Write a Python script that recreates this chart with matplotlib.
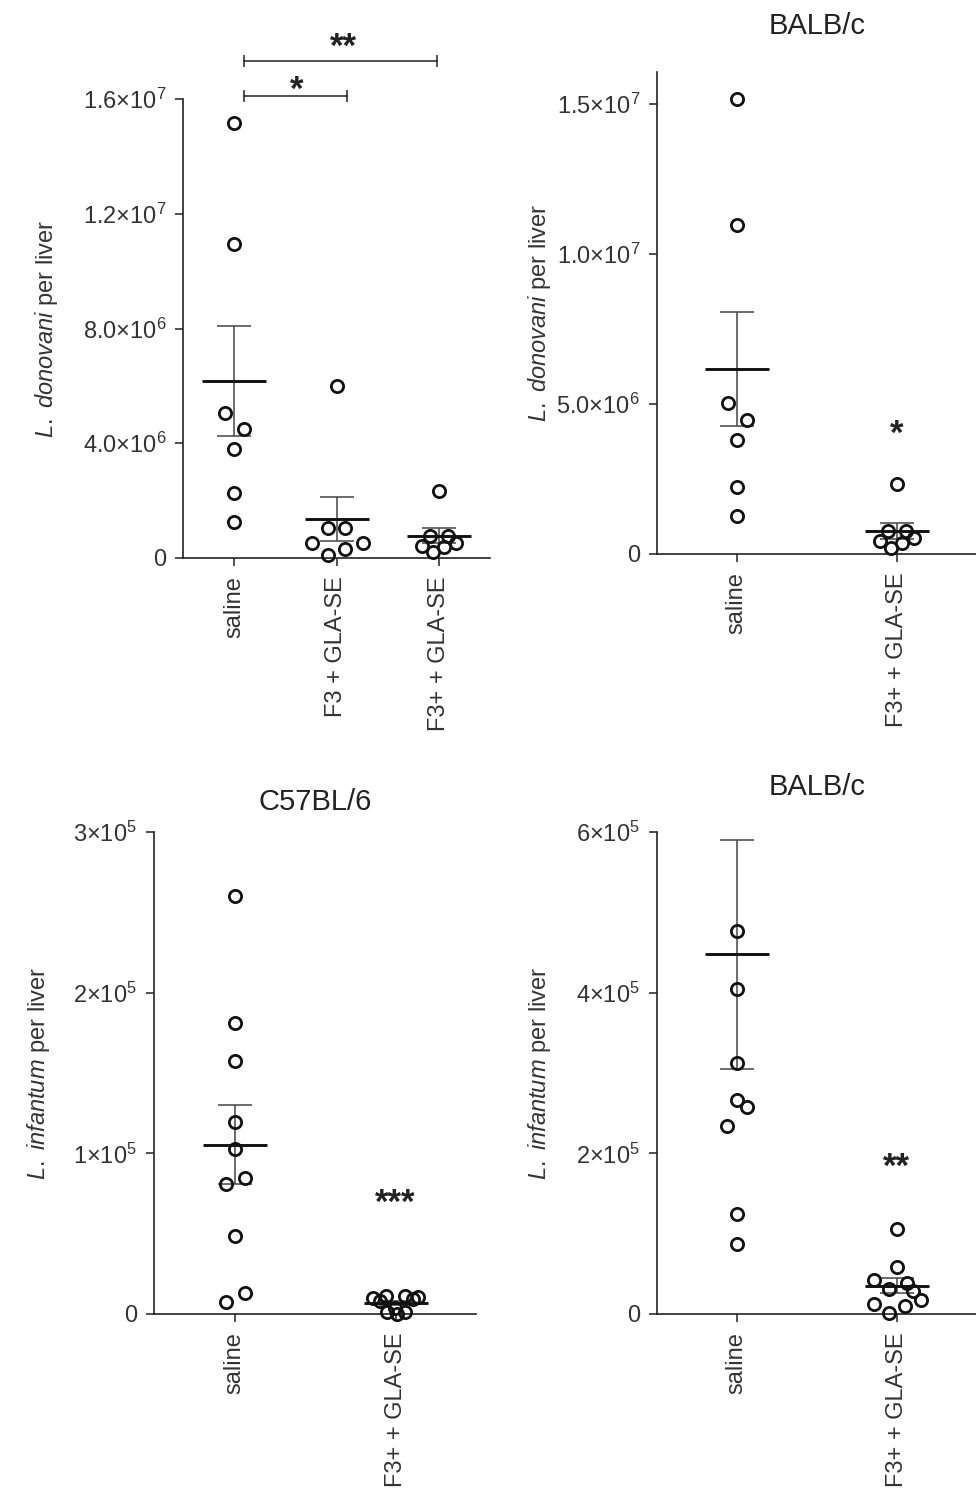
import matplotlib
matplotlib.use("Agg")
import matplotlib.pyplot as plt

plt.rcParams["font.family"] = ["Liberation Sans", "DejaVu Sans"]
plt.rcParams["mathtext.fontset"] = "custom"
plt.rcParams["mathtext.rm"] = "Liberation Sans"
plt.rcParams["mathtext.it"] = "Liberation Sans:italic"
plt.rcParams["mathtext.bf"] = "Liberation Sans:bold"

# ---------------- data ----------------
groups_three = ["saline", "F3 + GLA-SE", "F3+ + GLA-SE"]
groups_two = ["saline", "F3+ + GLA-SE"]

# L. donovani burden per liver (BALB/c)
ld_saline = [15.18e6, 10.96e6, 5.04e6, 4.48e6, 3.80e6, 2.25e6, 1.26e6]
ld_f3 = [5.99e6, 1.03e6, 1.03e6, 0.51e6, 0.51e6, 0.32e6, 0.10e6]
ld_f3plus = [2.33e6, 0.78e6, 0.78e6, 0.42e6, 0.52e6, 0.37e6, 0.21e6]
ld_mean = [6.17e6, 1.36e6, 0.77e6]
ld_sem = [1.90e6, 0.78e6, 0.26e6]

# L. infantum burden per liver (C57BL/6)
c57_saline = [2.604e5, 1.815e5, 1.578e5, 1.198e5, 1.026e5, 0.849e5, 0.808e5,
              0.488e5, 0.129e5, 0.073e5]
c57_f3plus = [0.098e5, 0.112e5, 0.112e5, 0.104e5, 0.083e5, 0.092e5, 0.014e5,
              0.002e5, 0.014e5, 0.035e5]
c57_mean = [1.055e5, 0.067e5]
c57_sem = [0.248e5, 0.012e5]

# L. infantum burden per liver (BALB/c)
balb_saline = [4.769e5, 4.054e5, 3.124e5, 2.667e5, 2.583e5, 2.343e5, 1.246e5, 0.872e5]
balb_f3plus = [1.055e5, 0.590e5, 0.424e5, 0.390e5, 0.307e5, 0.291e5, 0.174e5,
               0.125e5, 0.100e5, 0.016e5]
balb_mean = [4.48e5, 0.353e5]
balb_sem = [1.43e5, 0.092e5]

# y ticks and their labels
ld3_ticks = [0, 4.0e6, 8.0e6, 1.2e7, 1.6e7]
ld3_labels = ["0", "4.0\u00d710$^{6}$", "8.0\u00d710$^{6}$", "1.2\u00d710$^{7}$", "1.6\u00d710$^{7}$"]
ld2_ticks = [0, 5.0e6, 1.0e7, 1.5e7]
ld2_labels = ["0", "5.0\u00d710$^{6}$", "1.0\u00d710$^{7}$", "1.5\u00d710$^{7}$"]
c57_ticks = [0, 1e5, 2e5, 3e5]
c57_labels = ["0", "1\u00d710$^{5}$", "2\u00d710$^{5}$", "3\u00d710$^{5}$"]
balb_ticks = [0, 2e5, 4e5, 6e5]
balb_labels = ["0", "2\u00d710$^{5}$", "4\u00d710$^{5}$", "6\u00d710$^{5}$"]

# ---------------- scatter layout (horizontal spread, pixels) ----------------
ld_saline_dx = [0, 0, -9, 10, 0, 0, 0]
ld_f3_dx = [0, -8.5, 8.5, -25, 26, 8.5, -8.5]
ld_f3plus_dx = [0, -9, 9.3, -17.3, 17.3, 5, -5.7]
c57_saline_dx = [0, 0, 0, 0, 0, 10, -9, 0, 10, -9]
c57_f3plus_dx = [-23, -9.7, 9.3, 22.6, -15.7, 17.6, -8.4, 1, 9.3, -1]
balb_saline_dx = [0, 0, 0, 0, 10.4, -10, 0, 0]
balb_f3plus_dx = [0, 0, -23.3, 10, -8, 16, 24.4, -23.3, 7.7, -8]

W, H, DPI = 976, 1500, 100
TXT = "#333333"
INK = "#222222"
STAR_SIZE = 25
fig = plt.figure(figsize=(W / DPI, H / DPI), dpi=DPI)


def make_axes(left, right, top, bottom):
    return fig.add_axes([left / W, 1 - bottom / H, (right - left) / W, (bottom - top) / H])


def style(ax, ngroups, names, ticks, labels, ymax, ylabel, label_x):
    ax.set_xlim(-0.5, ngroups - 0.5)
    ax.set_ylim(0, ymax)
    ax.set_xticks(range(ngroups))
    ax.set_xticklabels(names, rotation=90, ha="center", va="top")
    ax.set_yticks(ticks)
    ax.set_yticklabels(labels)
    for s in ("top", "right"):
        ax.spines[s].set_visible(False)
    for s in ("left", "bottom"):
        ax.spines[s].set_linewidth(1.2)
        ax.spines[s].set_color(INK)
    ax.tick_params(axis="both", direction="out", length=5.5, width=1.1,
                   color=INK, labelsize=17, labelcolor=TXT)
    ax.tick_params(axis="y", pad=6.5)
    ax.tick_params(axis="x", pad=7.5)
    ax.set_ylabel(ylabel, fontsize=17, color=TXT)
    ax.yaxis.set_label_coords(label_x, 0.5)


def draw_group(ax, xpos, values, dx, mean, sem, ngroups):
    px_per_unit = ax.get_position().width * W / ngroups
    xs = [xpos + d / px_per_unit for d in dx]
    ax.errorbar(xpos, mean, yerr=sem, fmt="none", ecolor="#444444",
                elinewidth=1.1, capsize=12, capthick=1.1, zorder=2)
    ax.plot([xpos], [mean], marker="_", ms=46, mew=2.1, color="#111111",
            linestyle="none", zorder=3)
    ax.plot(xs, values, "o", ms=8.8, mew=2.0, mfc="none", mec="#111111",
            linestyle="none", clip_on=False, zorder=4)


def star(ax, x, y, s):
    # y is the visual centre of the asterisks
    ax.annotate(s, xy=(x, y), xytext=(0, -0.5 * STAR_SIZE), textcoords="offset points",
                ha="center", va="baseline", fontsize=STAR_SIZE, fontweight="bold",
                color=INK, annotation_clip=False)


ld_label = r"$\it{L.\ donovani}$ per liver"
li_label = r"$\it{L.\ infantum}$ per liver"

# ---- top left: L. donovani, three groups ----
ax1 = make_axes(183, 490, 99, 558)
style(ax1, 3, groups_three, ld3_ticks, ld3_labels, 1.6e7, ld_label, -0.40)
for i, (vals, dx) in enumerate([(ld_saline, ld_saline_dx), (ld_f3, ld_f3_dx),
                                (ld_f3plus, ld_f3plus_dx)]):
    draw_group(ax1, i, vals, dx, ld_mean[i], ld_sem[i], 3)

# significance brackets: (x0, x1, bracket height, label x, label height, label)
brackets = [(0.095, 1.10, 1.61e7, 0.61, 1.656e7, "*"),
            (0.095, 1.98, 1.734e7, 1.063, 1.806e7, "**")]
for x0, x1, yb, xt, yt, txt in brackets:
    ax1.plot([x0, x1], [yb, yb], color=INK, lw=1.1, clip_on=False)
    ax1.plot([x0, x1], [yb, yb], marker="|", ms=8.6, mew=1.1, color=INK,
             linestyle="none", clip_on=False)
    star(ax1, xt, yt, txt)

# ---- top right: L. donovani, BALB/c ----
ax2 = make_axes(656.7, 977, 71.7, 554)
style(ax2, 2, groups_two, ld2_ticks, ld2_labels, 1.608e7, ld_label, -0.325)
draw_group(ax2, 0, ld_saline, ld_saline_dx, ld_mean[0], ld_sem[0], 2)
draw_group(ax2, 1, ld_f3plus, ld_f3plus_dx, ld_mean[2], ld_sem[2], 2)
star(ax2, 1.0, 4.24e6, "*")
ax2.set_title("BALB/c", fontsize=21, color=INK, pad=27)

# ---- bottom left: L. infantum, C57BL/6 ----
ax3 = make_axes(154, 476, 832.3, 1314)
style(ax3, 2, groups_two, c57_ticks, c57_labels, 3e5, li_label, -0.317)
draw_group(ax3, 0, c57_saline, c57_saline_dx, c57_mean[0], c57_sem[0], 2)
draw_group(ax3, 1, c57_f3plus, c57_f3plus_dx, c57_mean[1], c57_sem[1], 2)
star(ax3, 1.0, 0.735e5, "***")
ax3.set_title("C57BL/6", fontsize=21, color=INK, pad=16)

# ---- bottom right: L. infantum, BALB/c ----
ax4 = make_axes(656.7, 977, 832.3, 1314)
style(ax4, 2, groups_two, balb_ticks, balb_labels, 6e5, li_label, -0.325)
draw_group(ax4, 0, balb_saline, balb_saline_dx, balb_mean[0], balb_sem[0], 2)
draw_group(ax4, 1, balb_f3plus, balb_f3plus_dx, balb_mean[1], balb_sem[1], 2)
star(ax4, 1.0, 1.92e5, "**")
ax4.set_title("BALB/c", fontsize=21, color=INK, pad=27)

fig.savefig("out.png", dpi=DPI)
